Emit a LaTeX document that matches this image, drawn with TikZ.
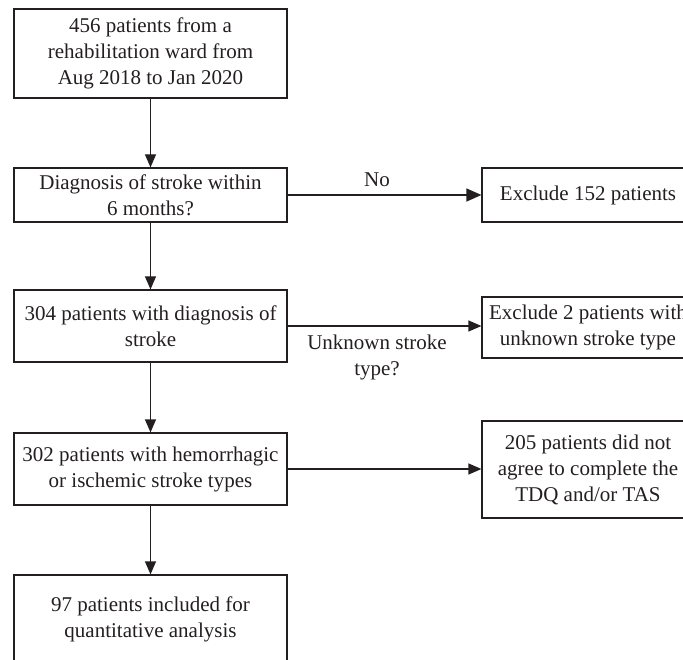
\documentclass[tikz,border=0pt]{standalone}
\usepackage{fontspec}
\setmainfont{Liberation Serif}
\usetikzlibrary{arrows.meta}
\definecolor{ink}{HTML}{231F20}
\begin{document}
\begin{tikzpicture}[x=1pt,y=-1pt,
 box/.style={draw=ink, line width=1.2pt, minimum width=273pt, inner sep=0pt, align=center, text=ink, font=\fontsize{21}{26}\selectfont},
 rbox/.style={box, minimum width=212pt},
 arr/.style={draw=ink, line width=1.2pt, -{Triangle[length=13pt,width=11pt]}},
 lbl/.style={text=ink, align=center, font=\fontsize{21}{26}\selectfont}]
\useasboundingbox (0,0) rectangle (683,660);
\node[box, minimum height=89pt] (b1) at (150.5,53.5) {456 patients from a\\rehabilitation ward from\\Aug 2018 to Jan 2020};
\node[box, minimum height=54pt] (b2) at (150.5,195) {Diagnosis of stroke within\\6 months?};
\node[box, minimum height=72pt] (b3) at (150.5,326) {304 patients with diagnosis of\\stroke};
\node[box, minimum height=72pt] (b4) at (150.5,469) {302 patients with hemorrhagic\\or ischemic stroke types};
\node[box, minimum height=89pt] (b5) at (150.5,619.5) {97 patients included for\\quantitative analysis};
\node[rbox, minimum height=54pt] (e1) at (588,195) {Exclude 152 patients};
\node[rbox, minimum height=61pt] (e2) at (588,327.5) {Exclude 2 patients with\\unknown stroke type};
\node[rbox, minimum height=97pt] (e3) at (588,469.5) {205 patients did not\\agree to complete the\\TDQ and/or TAS};
\draw[arr] (b1) -- (b2);
\draw[arr] (b2) -- (b3);
\draw[arr] (b3) -- (b4);
\draw[arr] (b4) -- (b5);
\draw[arr, -{Triangle[length=15pt,width=13pt]}] (b2.east) -- (b2.east -| e1.west);
\draw[arr] (b3.east) -- (b3.east -| e2.west);
\draw[arr] (b4.east) -- (b4.east -| e3.west);
\node[lbl] (no) at (377,180) {No};
\node[lbl] (unk) at (377,357) {Unknown stroke\\type?};
\end{tikzpicture}
\end{document}
